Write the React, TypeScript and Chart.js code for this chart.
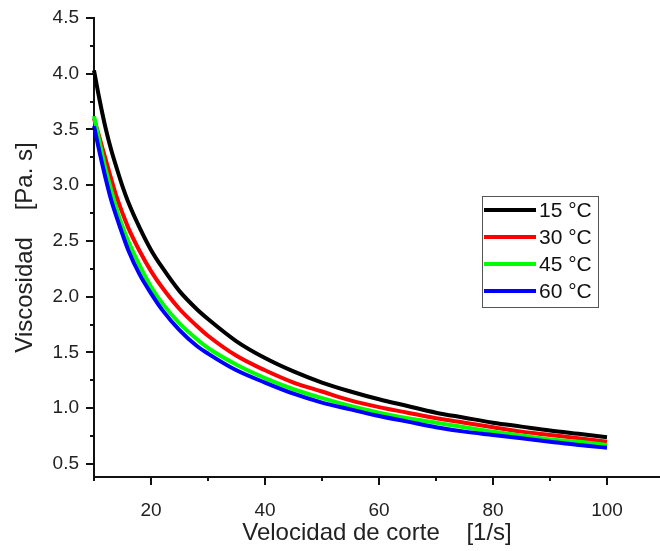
import React, { useEffect, useRef } from "react";
import { Chart, registerables } from "chart.js";

Chart.register(...registerables);

const shearRate = [10, 11, 12, 13, 14, 15, 16, 18, 20, 22, 25, 28, 30, 35, 40, 45, 50, 55, 60, 65, 70, 75, 80, 85, 90, 95, 100];
const visc15 = [4.03, 3.76, 3.52, 3.32, 3.15, 2.99, 2.85, 2.62, 2.42, 2.26, 2.05, 1.89, 1.8, 1.6, 1.45, 1.33, 1.23, 1.15, 1.08, 1.02, 0.96, 0.915, 0.87, 0.835, 0.8, 0.77, 0.74];
const visc30 = [3.6, 3.42, 3.24, 3.06, 2.89, 2.75, 2.62, 2.41, 2.23, 2.08, 1.89, 1.74, 1.65, 1.47, 1.34, 1.23, 1.15, 1.07, 1.01, 0.96, 0.91, 0.87, 0.83, 0.79, 0.76, 0.73, 0.7];
const visc45 = [3.62, 3.38, 3.15, 2.96, 2.78, 2.63, 2.5, 2.28, 2.09, 1.94, 1.76, 1.62, 1.54, 1.39, 1.27, 1.17, 1.09, 1.02, 0.96, 0.91, 0.87, 0.83, 0.79, 0.755, 0.72, 0.7, 0.67];
const visc60 = [3.53, 3.29, 3.07, 2.87, 2.71, 2.56, 2.42, 2.2, 2.03, 1.88, 1.7, 1.56, 1.49, 1.34, 1.23, 1.13, 1.05, 0.99, 0.93, 0.88, 0.83, 0.79, 0.76, 0.73, 0.7, 0.67, 0.645];

const seriesLabels = ["15 °C", "30 °C", "45 °C", "60 °C"];
const seriesColors = ["#000000", "#ff0000", "#00ff00", "#0000ff"];
const seriesValues = [visc15, visc30, visc45, visc60];

const xTickValues = [20, 30, 40, 50, 60, 70, 80, 90, 100];
const yTickValues = [0.5, 1.0, 1.5, 2.0, 2.5, 3.0, 3.5, 4.0, 4.5];

const FONT = 'Arial, "Liberation Sans", sans-serif';

const tickMarksPlugin = {
  id: "tickMarks",
  afterDraw(chart: any) {
    const { ctx, chartArea, scales } = chart;
    const xs = scales.x;
    const ys = scales.y;
    ctx.save();
    ctx.strokeStyle = "#111";
    ctx.lineWidth = 2;
    ctx.beginPath();
    for (let v = 10; v <= xs.max + 0.001; v += 10) {
      const px = Math.round(xs.getPixelForValue(v));
      const len = v % 20 === 0 ? 8 : 4;
      ctx.moveTo(px, chartArea.bottom);
      ctx.lineTo(px, chartArea.bottom + len);
    }
    for (let v = 0.5; v <= ys.max + 0.001; v += 0.25) {
      const py = Math.round(ys.getPixelForValue(v));
      const major = Math.abs(v * 2 - Math.round(v * 2)) < 1e-6;
      const len = major ? 8 : 4;
      ctx.moveTo(chartArea.left, py);
      ctx.lineTo(chartArea.left - len, py);
    }
    ctx.stroke();
    ctx.restore();
  },
};

const legendBoxPlugin = {
  id: "legendBox",
  afterDraw(chart: any) {
    const { ctx, chartArea } = chart;
    const left = chartArea.left + 388;
    const top = chartArea.top + 178;
    const w = 116;
    const h = 111;
    ctx.save();
    ctx.strokeStyle = "#555";
    ctx.lineWidth = 1;
    ctx.strokeRect(left + 0.5, top + 0.5, w, h);
    chart.data.datasets.forEach((ds: any, i: number) => {
      const y = top + 14 + i * 27;
      ctx.strokeStyle = ds.borderColor;
      ctx.lineWidth = 4;
      ctx.beginPath();
      ctx.moveTo(left + 2, y);
      ctx.lineTo(left + 54, y);
      ctx.stroke();
      ctx.fillStyle = "#111";
      ctx.font = `21px ${FONT}`;
      ctx.textBaseline = "middle";
      ctx.textAlign = "left";
      ctx.fillText(ds.label, left + 57, y + 1);
    });
    ctx.restore();
  },
};

export default function App() {
  const canvasRef = useRef<HTMLCanvasElement | null>(null);

  useEffect(() => {
    if (!canvasRef.current) return;
    const datasets = seriesValues.map((vals, i) => ({
      label: seriesLabels[i],
      data: shearRate.map((x, j) => ({ x, y: vals[j] })),
      borderColor: seriesColors[i],
      backgroundColor: seriesColors[i],
      borderWidth: 4,
      pointRadius: 0,
      fill: false,
      cubicInterpolationMode: "monotone" as const,
      order: 4 - i,
      clip: 4,
    }));
    const chart = new Chart(canvasRef.current, {
      type: "line",
      data: { datasets },
      options: {
        animation: false,
        responsive: false,
        maintainAspectRatio: false,
        layout: { autoPadding: false, padding: { top: 18, right: 0, left: 0, bottom: 0 } },
        plugins: { legend: { display: false }, tooltip: { enabled: false } },
        scales: {
          x: {
            type: "linear",
            min: 10,
            max: 109.3,
            grid: { display: false, drawTicks: false, tickLength: 0 },
            border: { display: true, color: "#111", width: 2 },
            afterBuildTicks: (scale: any) => {
              scale.ticks = xTickValues.map((v) => ({ value: v }));
            },
            afterFit: (scale: any) => {
              scale.height = 74;
              scale.paddingLeft = 0;
              scale.paddingRight = 0;
            },
            ticks: {
              autoSkip: false,
              maxRotation: 0,
              padding: 22,
              color: "#222",
              font: { size: 19, family: FONT },
              callback: (v: any) => (Number(v) % 20 === 0 ? String(v) : ""),
            },
            title: {
              display: true,
              text: "Velocidad de corte    [1/s]",
              color: "#222",
              font: { size: 24, family: FONT },
              padding: { top: 0, bottom: 3 },
            },
          },
          y: {
            type: "linear",
            min: 0.383,
            max: 4.5,
            grid: { display: false, drawTicks: false, tickLength: 0 },
            border: { display: true, color: "#111", width: 2 },
            afterBuildTicks: (scale: any) => {
              scale.ticks = yTickValues.map((v) => ({ value: v }));
            },
            afterFit: (scale: any) => {
              scale.width = 94;
              scale.paddingTop = 0;
              scale.paddingBottom = 0;
            },
            ticks: {
              autoSkip: false,
              padding: 15,
              color: "#222",
              font: { size: 19, family: FONT },
              callback: (v: any) => Number(v).toFixed(1),
            },
            title: {
              display: true,
              text: "Viscosidad    [Pa. s]",
              color: "#222",
              font: { size: 24, family: FONT },
              padding: { top: 11, bottom: 0 },
            },
          },
        },
      },
      plugins: [tickMarksPlugin, legendBoxPlugin],
    });
    return () => chart.destroy();
  }, []);

  return (
    <div style={{ position: "fixed", left: 0, top: 0, width: 660, height: 551, background: "#fff" }}>
      <canvas ref={canvasRef} width={660} height={551} style={{ width: 660, height: 551, display: "block" }} />
    </div>
  );
}
